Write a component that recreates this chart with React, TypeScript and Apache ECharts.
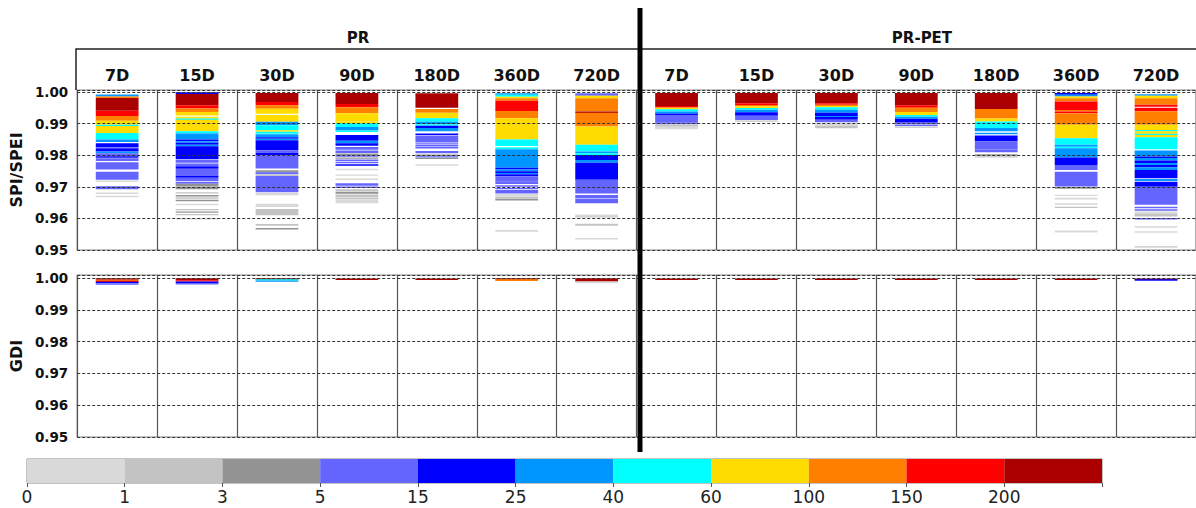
import React, { useEffect, useRef } from 'react';
import * as echarts from 'echarts';

// ---- categories / labels ----
const GROUPS = ['PR', 'PR-PET'];
const SCALES = ['7D', '15D', '30D', '90D', '180D', '360D', '720D'];
const COLUMNS = GROUPS.flatMap((g) => SCALES.map((s) => g + '|' + s));
const Y_TICKS = ['0.95', '0.96', '0.97', '0.98', '0.99', '1.00'];
const BIN_EDGES = ['0', '1', '3', '5', '15', '25', '40', '60', '100', '150', '200'];
const BIN_COLORS = ['#d9d9d9', '#c3c3c3', '#939393', '#6464ff', '#0000ff', '#0096ff', '#00ffff', '#ffdc00', '#ff8000', '#ff0000', '#aa0000'];

// ---- SPI/SPEI bands: [top value, bottom value, count bin] ----
const SPI_PR_7D = [
  [0.9992, 0.9986, 5], [0.9986, 0.9981, 8], [0.9981, 0.9941, 10], [0.9941, 0.9924, 9], [0.9924, 0.9909, 8],
  [0.9909, 0.9896, 7], [0.9896, 0.9892, 6], [0.9892, 0.9870, 7], [0.9870, 0.9850, 6], [0.9850, 0.9842, 5],
  [0.9838, 0.9824, 4], [0.9822, 0.9812, 4], [0.9812, 0.9806, 5], [0.9806, 0.9797, 3], [0.9797, 0.9792, 4],
  [0.9790, 0.9782, 3], [0.9778, 0.9755, 3], [0.9748, 0.9722, 3], [0.9720, 0.9715, 0], [0.9702, 0.9692, 3],
  [0.9682, 0.9678, 0], [0.9672, 0.9667, 0],
];
const SPI_PR_15D = [
  [0.9999, 0.9994, 4], [0.9994, 0.9958, 10], [0.9958, 0.9948, 9], [0.9948, 0.9937, 8], [0.9937, 0.9926, 7],
  [0.9922, 0.9916, 7], [0.9916, 0.9912, 6], [0.9912, 0.9902, 7], [0.9902, 0.9876, 7], [0.9876, 0.9869, 6],
  [0.9869, 0.9850, 5], [0.9850, 0.9844, 4], [0.9844, 0.9839, 5], [0.9839, 0.9833, 4], [0.9833, 0.9828, 5],
  [0.9828, 0.9788, 4], [0.9786, 0.9776, 3], [0.9774, 0.9766, 3], [0.9765, 0.9757, 4], [0.9756, 0.9734, 3],
  [0.9734, 0.9729, 4], [0.9728, 0.9718, 3], [0.9716, 0.9710, 3], [0.9710, 0.9702, 2], [0.9701, 0.9692, 2],
  [0.9683, 0.9679, 1], [0.9674, 0.9670, 2], [0.9667, 0.9663, 1], [0.9659, 0.9655, 2], [0.9646, 0.9642, 0],
  [0.9630, 0.9626, 1], [0.9622, 0.9618, 2], [0.9614, 0.9610, 1], [0.9601, 0.9597, 0],
];
const SPI_PR_30D = [
  [0.9997, 0.9968, 10], [0.9968, 0.9958, 9], [0.9958, 0.9947, 8], [0.9947, 0.9931, 7], [0.9927, 0.9906, 7],
  [0.9906, 0.9895, 5], [0.9895, 0.9879, 6], [0.9879, 0.9874, 7], [0.9874, 0.9868, 6], [0.9866, 0.9857, 5],
  [0.9857, 0.9852, 4], [0.9852, 0.9847, 5], [0.9847, 0.9816, 4], [0.9816, 0.9808, 3], [0.9808, 0.9800, 4],
  [0.9800, 0.9758, 3], [0.9752, 0.9746, 2], [0.9746, 0.9740, 3], [0.9739, 0.9734, 1], [0.9734, 0.9683, 3],
  [0.9681, 0.9673, 0], [0.9646, 0.9636, 0], [0.9630, 0.9610, 1], [0.9582, 0.9577, 1], [0.9570, 0.9565, 2],
];
const SPI_PR_90D = [
  [0.9997, 0.9962, 10], [0.9962, 0.9952, 9], [0.9952, 0.9933, 8], [0.9933, 0.9907, 7], [0.9907, 0.9901, 7],
  [0.9901, 0.9889, 6], [0.9889, 0.9878, 5], [0.9878, 0.9874, 6], [0.9864, 0.9846, 4], [0.9846, 0.9838, 5],
  [0.9838, 0.9830, 4], [0.9826, 0.9817, 3], [0.9815, 0.9807, 3], [0.9805, 0.9800, 2], [0.9800, 0.9795, 3],
  [0.9793, 0.9789, 2], [0.9786, 0.9782, 3], [0.9779, 0.9775, 3], [0.9771, 0.9768, 4], [0.9757, 0.9754, 0],
  [0.9739, 0.9736, 0], [0.9726, 0.9723, 0], [0.9711, 0.9703, 3], [0.9701, 0.9696, 3], [0.9692, 0.9686, 1],
  [0.9684, 0.9678, 2], [0.9676, 0.9668, 1], [0.9666, 0.9660, 1], [0.9658, 0.9648, 0],
];
const SPI_PR_180D = [
  [0.9996, 0.9950, 10], [0.9946, 0.9934, 8], [0.9934, 0.9917, 7], [0.9917, 0.9906, 6], [0.9906, 0.9898, 5],
  [0.9898, 0.9893, 6], [0.9893, 0.9886, 4], [0.9886, 0.9876, 5], [0.9869, 0.9864, 4], [0.9862, 0.9840, 3],
  [0.9838, 0.9834, 3], [0.9832, 0.9828, 3], [0.9826, 0.9822, 3], [0.9813, 0.9806, 3], [0.9802, 0.9799, 2],
  [0.9797, 0.9794, 3], [0.9792, 0.9789, 2], [0.9771, 0.9767, 0],
];
const SPI_PR_360D = [
  [0.9996, 0.9991, 5], [0.9991, 0.9985, 6], [0.9985, 0.9980, 7], [0.9980, 0.9972, 8], [0.9972, 0.9940, 9],
  [0.9940, 0.9917, 8], [0.9917, 0.9850, 7], [0.9850, 0.9829, 6], [0.9825, 0.9819, 6], [0.9819, 0.9760, 5],
  [0.9760, 0.9755, 4], [0.9755, 0.9749, 5], [0.9749, 0.9744, 4], [0.9744, 0.9740, 5], [0.9740, 0.9733, 4],
  [0.9733, 0.9716, 3], [0.9716, 0.9709, 3], [0.9705, 0.9700, 3], [0.9697, 0.9692, 3], [0.9690, 0.9679, 3],
  [0.9677, 0.9670, 0], [0.9669, 0.9663, 1], [0.9662, 0.9657, 2], [0.9563, 0.9558, 0],
];
const SPI_PR_720D = [
  [0.9996, 0.9988, 3], [0.9988, 0.9980, 7], [0.9980, 0.9938, 8], [0.9938, 0.9934, 10], [0.9934, 0.9891, 8],
  [0.9891, 0.9833, 7], [0.9833, 0.9812, 6], [0.9812, 0.9806, 5], [0.9806, 0.9801, 6], [0.9801, 0.9785, 4],
  [0.9785, 0.9776, 5], [0.9776, 0.9722, 4], [0.9722, 0.9679, 3], [0.9674, 0.9664, 3], [0.9662, 0.9648, 3],
  [0.9612, 0.9608, 0], [0.9607, 0.9603, 1], [0.9583, 0.9577, 1], [0.9538, 0.9534, 0],
];
const SPI_PET_7D = [
  [0.9997, 0.9956, 10], [0.9956, 0.9952, 9], [0.9952, 0.9949, 8], [0.9949, 0.9945, 7], [0.9945, 0.9938, 6],
  [0.9938, 0.9932, 5], [0.9932, 0.9927, 4], [0.9927, 0.9903, 3], [0.9903, 0.9898, 3], [0.9897, 0.9890, 1],
  [0.9890, 0.9882, 0],
];
const SPI_PET_15D = [
  [0.9997, 0.9964, 10], [0.9964, 0.9959, 9], [0.9959, 0.9955, 8], [0.9955, 0.9949, 7], [0.9949, 0.9944, 6],
  [0.9944, 0.9936, 5], [0.9936, 0.9925, 4], [0.9925, 0.9911, 3], [0.9910, 0.9907, 1],
];
const SPI_PET_30D = [
  [0.9997, 0.9964, 10], [0.9964, 0.9960, 9], [0.9960, 0.9956, 8], [0.9956, 0.9952, 7], [0.9952, 0.9944, 6],
  [0.9944, 0.9934, 5], [0.9934, 0.9924, 4], [0.9924, 0.9921, 5], [0.9921, 0.9912, 4], [0.9912, 0.9904, 3],
  [0.9902, 0.9893, 0], [0.9893, 0.9885, 1],
];
const SPI_PET_90D = [
  [0.9997, 0.9958, 10], [0.9958, 0.9950, 9], [0.9950, 0.9937, 8], [0.9937, 0.9927, 7], [0.9927, 0.9922, 6],
  [0.9922, 0.9915, 5], [0.9915, 0.9905, 4], [0.9905, 0.9899, 3], [0.9897, 0.9893, 3], [0.9891, 0.9887, 1],
];
const SPI_PET_180D = [
  [0.9997, 0.9946, 10], [0.9946, 0.9916, 8], [0.9916, 0.9907, 7], [0.9907, 0.9886, 6], [0.9886, 0.9876, 5],
  [0.9871, 0.9866, 5], [0.9862, 0.9844, 4], [0.9844, 0.9818, 3], [0.9818, 0.9809, 3], [0.9803, 0.9799, 2],
  [0.9797, 0.9794, 1],
];
const SPI_PET_360D = [
  [0.9997, 0.9991, 4], [0.9991, 0.9986, 5], [0.9986, 0.9980, 7], [0.9980, 0.9970, 8], [0.9970, 0.9943, 9],
  [0.9943, 0.9938, 8], [0.9938, 0.9933, 9], [0.9933, 0.9896, 8], [0.9896, 0.9854, 7], [0.9854, 0.9833, 6],
  [0.9833, 0.9827, 5], [0.9827, 0.9822, 6], [0.9822, 0.9793, 5], [0.9793, 0.9769, 4], [0.9769, 0.9753, 3],
  [0.9748, 0.9709, 3], [0.9709, 0.9701, 3], [0.9699, 0.9694, 2], [0.9675, 0.9671, 0], [0.9665, 0.9660, 0],
  [0.9648, 0.9644, 0], [0.9637, 0.9633, 1], [0.9562, 0.9555, 0],
];
const SPI_PET_720D = [
  [0.9993, 0.9988, 5], [0.9988, 0.9980, 7], [0.9980, 0.9960, 8], [0.9960, 0.9953, 9], [0.9950, 0.9939, 9],
  [0.9939, 0.9896, 8], [0.9896, 0.9880, 7], [0.9880, 0.9876, 6], [0.9876, 0.9868, 7], [0.9868, 0.9864, 6],
  [0.9864, 0.9857, 7], [0.9857, 0.9819, 6], [0.9815, 0.9796, 5], [0.9796, 0.9791, 4], [0.9791, 0.9783, 5],
  [0.9783, 0.9775, 4], [0.9775, 0.9769, 5], [0.9769, 0.9762, 4], [0.9762, 0.9753, 5], [0.9753, 0.9727, 4],
  [0.9725, 0.9718, 5], [0.9716, 0.9700, 4], [0.9700, 0.9643, 3], [0.9637, 0.9632, 3], [0.9629, 0.9625, 3],
  [0.9622, 0.9614, 0], [0.9614, 0.9606, 1], [0.9601, 0.9597, 3], [0.9575, 0.9571, 0], [0.9559, 0.9555, 0],
  [0.9512, 0.9508, 1],
];

// ---- GDI bands ----
const GDI_PR_7D = [[1.0000, 0.9995, 10], [0.9995, 0.9992, 8], [0.9992, 0.9989, 9], [0.9989, 0.9984, 4], [0.9984, 0.9981, 3]];
const GDI_PR_15D = [[1.0000, 0.9994, 10], [0.9994, 0.9990, 9], [0.9990, 0.9985, 4], [0.9985, 0.9981, 3]];
const GDI_PR_30D = [[1.0000, 0.9997, 10], [0.9997, 0.9993, 6], [0.9993, 0.9991, 5]];
const GDI_PR_90D = [[0.9999, 0.9995, 10]];
const GDI_PR_180D = [[0.9999, 0.9995, 10]];
const GDI_PR_360D = [[1.0000, 0.9997, 10], [0.9997, 0.9991, 8]];
const GDI_PR_720D = [[1.0000, 0.9990, 10], [0.9990, 0.9984, 0]];
const GDI_PET_7D = [[0.9999, 0.9995, 10]];
const GDI_PET_15D = [[0.9999, 0.9995, 10]];
const GDI_PET_30D = [[0.9999, 0.9995, 10]];
const GDI_PET_90D = [[0.9999, 0.9995, 10]];
const GDI_PET_180D = [[0.9999, 0.9995, 10]];
const GDI_PET_360D = [[0.9999, 0.9995, 10]];
const GDI_PET_720D = [[0.9999, 0.9997, 10], [0.9997, 0.9992, 4]];

const SPI_COLUMNS = [SPI_PR_7D, SPI_PR_15D, SPI_PR_30D, SPI_PR_90D, SPI_PR_180D, SPI_PR_360D, SPI_PR_720D,
  SPI_PET_7D, SPI_PET_15D, SPI_PET_30D, SPI_PET_90D, SPI_PET_180D, SPI_PET_360D, SPI_PET_720D];
const GDI_COLUMNS = [GDI_PR_7D, GDI_PR_15D, GDI_PR_30D, GDI_PR_90D, GDI_PR_180D, GDI_PR_360D, GDI_PR_720D,
  GDI_PET_7D, GDI_PET_15D, GDI_PET_30D, GDI_PET_90D, GDI_PET_180D, GDI_PET_360D, GDI_PET_720D];

// ---- layout ----
const W = 1196;
const H = 508;
const GRID_LEFT = 76;
const COL_W = 80.57;
const GRID_W = COL_W * COLUMNS.length;
const FONT = 'DejaVu Sans';

const toItems = (cols: number[][][]) => {
  const out: number[][] = [];
  cols.forEach((bands, ci) => bands.forEach((b) => out.push([ci, b[0], b[1], b[2]])));
  return out;
};

const bandRender = (params: any, api: any) => {
  const cat = api.value(0);
  const p1 = api.coord([cat, api.value(1)]);
  const p2 = api.coord([cat, api.value(2)]);
  const w = api.size([1, 0])[0] * 0.535;
  const h = Math.max(p2[1] - p1[1], 1.4);
  return {
    type: 'rect',
    shape: { x: p1[0] - w / 2, y: p1[1], width: w, height: h },
    style: { fill: BIN_COLORS[api.value(3)] },
  };
};

const cbarRender = (params: any, api: any) => {
  const i = api.value(0);
  const a = api.coord([i, 1]);
  const b = api.coord([i + 1, 0]);
  return {
    type: 'rect',
    shape: { x: a[0], y: a[1], width: b[0] - a[0], height: b[1] - a[1] },
    style: { fill: BIN_COLORS[api.value(2)] },
  };
};

const yAxisCommon = (name: string, max: number, gridIndex: number) => ({
  type: 'value',
  gridIndex,
  min: 0.95,
  max,
  interval: 0.01,
  z: 5,
  name,
  nameLocation: 'middle',
  nameGap: 50,
  nameTextStyle: { fontFamily: FONT, fontWeight: 'bold', fontSize: 16, color: '#111' },
  axisLine: { show: false },
  axisTick: { show: false },
  axisLabel: {
    fontFamily: FONT,
    fontWeight: 'bold',
    fontSize: 13.5,
    color: '#111',
    margin: 9,
    formatter: (v: number) => {
      if (v > 1.00005) return '';
      const s = v.toFixed(2);
      return Y_TICKS.includes(s) ? s : '';
    },
  },
  splitLine: { show: true, lineStyle: { color: '#333', width: 1, type: [3, 2] } },
});

const xAxisCommon = (gridIndex: number, showLabels: boolean) => ({
  type: 'category',
  gridIndex,
  data: COLUMNS,
  position: showLabels ? 'top' : 'bottom',
  axisLine: { show: false },
  axisTick: { show: false },
  axisLabel: showLabels
    ? {
        show: true,
        interval: 0,
        margin: 7,
        fontFamily: FONT,
        fontWeight: 'bold',
        fontSize: 16,
        color: '#111',
        formatter: (v: string) => v.split('|')[1],
      }
    : { show: false },
  splitLine: { show: true, interval: 0, lineStyle: { color: '#555', width: 1.2 } },
});

export default function App() {
  const ref = useRef<HTMLDivElement>(null);

  useEffect(() => {
    document.body.style.margin = '0';
    if (!ref.current) return;
    const chart = echarts.init(ref.current, null, { renderer: 'svg', width: W, height: H });
    const midX = GRID_LEFT + COL_W * SCALES.length;

    chart.setOption({
      animation: false,
      backgroundColor: '#ffffff',
      grid: [
        { left: GRID_LEFT, top: 90, width: GRID_W, height: 160, show: true, borderColor: '#888', borderWidth: 1.2, backgroundColor: 'transparent' },
        { left: GRID_LEFT, top: 275, width: GRID_W, height: 162, show: true, borderColor: '#888', borderWidth: 1.2, backgroundColor: 'transparent' },
        { left: 27, top: 459, width: 1075, height: 24, show: true, borderColor: '#888', borderWidth: 1, backgroundColor: 'transparent' },
      ],
      xAxis: [
        xAxisCommon(0, true),
        xAxisCommon(1, false),
        {
          type: 'value',
          gridIndex: 2,
          min: 0,
          max: BIN_EDGES.length,
          interval: 1,
          axisLine: { show: false },
          axisTick: { show: true, length: 4, lineStyle: { color: '#555' } },
          splitLine: { show: false },
          axisLabel: {
            margin: 5,
            fontFamily: FONT,
            fontSize: 17,
            color: '#222',
            formatter: (v: number) => (BIN_EDGES[Math.round(v)] ?? ''),
          },
        },
      ],
      yAxis: [
        yAxisCommon('SPI/SPEI', 1.00063, 0),
        yAxisCommon('GDI', 1.00102, 1),
        { type: 'value', gridIndex: 2, min: 0, max: 1, show: false },
      ],
      series: [
        {
          type: 'custom',
          xAxisIndex: 0,
          yAxisIndex: 0,
          z: 2,
          renderItem: bandRender,
          encode: { x: 0, y: [1, 2] },
          data: toItems(SPI_COLUMNS),
          silent: true,
        },
        {
          type: 'custom',
          xAxisIndex: 1,
          yAxisIndex: 1,
          z: 2,
          renderItem: bandRender,
          encode: { x: 0, y: [1, 2] },
          data: toItems(GDI_COLUMNS),
          silent: true,
        },
        {
          type: 'custom',
          xAxisIndex: 2,
          yAxisIndex: 2,
          z: 2,
          renderItem: cbarRender,
          encode: { x: [0, 1] },
          data: BIN_COLORS.map((c, i) => [i, i + 1, i]),
          silent: true,
        },
      ],
      graphic: [
        {
          type: 'polyline',
          z: 10,
          shape: { points: [[W + 10, 49], [GRID_LEFT, 49], [GRID_LEFT, 90]] },
          style: { stroke: '#222', lineWidth: 1.5, fill: null },
        },
        {
          type: 'line',
          z: 20,
          shape: { x1: midX, y1: 8, x2: midX, y2: 452 },
          style: { stroke: '#000', lineWidth: 5 },
        },
        {
          type: 'text',
          z: 10,
          x: GRID_LEFT + COL_W * 3.5,
          y: 38,
          style: { text: GROUPS[0], font: 'bold 15px "DejaVu Sans"', fill: '#111', textAlign: 'center', textVerticalAlign: 'middle' },
        },
        {
          type: 'text',
          z: 10,
          x: GRID_LEFT + COL_W * 10.5,
          y: 38,
          style: { text: GROUPS[1], font: 'bold 15px "DejaVu Sans"', fill: '#111', textAlign: 'center', textVerticalAlign: 'middle' },
        },
      ],
    });

    return () => chart.dispose();
  }, []);

  return <div ref={ref} style={{ width: W, height: H, overflow: 'hidden' }} />;
}
